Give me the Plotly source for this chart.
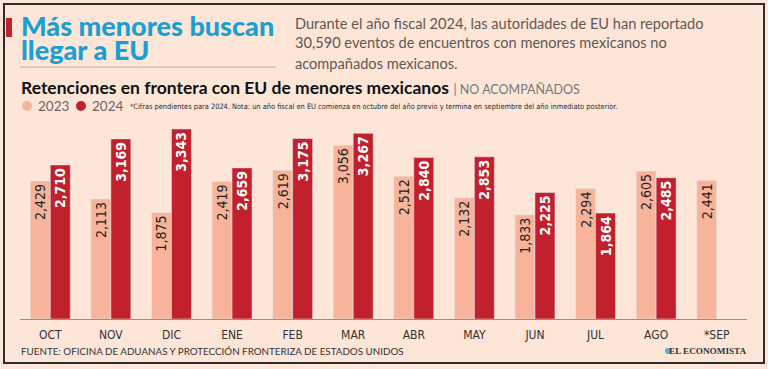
import plotly.graph_objects as go

W, H = 768, 369

months = ["OCT", "NOV", "DIC", "ENE", "FEB", "MAR", "ABR", "MAY", "JUN", "JUL", "AGO", "*SEP"]
v2023 = [2429, 2113, 1875, 2419, 2619, 3056, 2512, 2132, 1833, 2294, 2605, 2441]
v2024 = [2710, 3169, 3343, 2659, 3175, 3267, 2840, 2853, 2225, 1864, 2485, None]
series_names = ["2023", "2024"]

title_l1 = "Más menores buscan"
title_l2 = "llegar a EU"
subtitle = ["Durante el año fiscal 2024, las autoridades de EU han reportado",
            "30,590 eventos de encuentros con menores mexicanos no",
            "acompañados mexicanos."]
chart_title = "Retenciones en frontera con EU de menores mexicanos"
chart_sub = "| NO ACOMPAÑADOS"
note = ("*Cifras pendientes para 2024. Nota: un año fiscal en EU comienza en octubre "
        "del año previo y termina en septiembre del año inmediato posterior.")
source = "FUENTE: OFICINA DE ADUANAS Y PROTECCIÓN FRONTERIZA DE ESTADOS UNIDOS"
brand = "EL ECONOMISTA"

C23 = "#f8b39b"
C24 = "#c1202c"
BG = "#fde6d8"
NARROW = "Liberation Sans Narrow, DejaVu Sans Condensed, Roboto Condensed, sans-serif"
GEO = "Lato, Noto Sans, sans-serif"

def fmt(v):
    return "" if v is None else f"{v:,}"

def px(x):
    return x / W

def py(y):
    return 1 - y / H

# plot area
x0, x1 = 20, 747
ybase, ytop = 319, 120
scale = 190 / 3343.0
ymax = (ybase - ytop) / scale

fig = go.Figure()
fig.add_trace(go.Bar(
    x=months, y=v2023, name=series_names[0], marker_color=C23,
    text=[fmt(v) for v in v2023], textposition="inside", insidetextanchor="end",
    textangle=-90, constraintext="none",
    textfont=dict(family=NARROW, size=14, color="#222"),
    hoverinfo="skip", showlegend=False,
))
fig.add_trace(go.Bar(
    x=months, y=v2024, name=series_names[1], marker_color=C24,
    text=[fmt(v) for v in v2024], textposition="inside", insidetextanchor="end",
    textangle=-90, constraintext="none",
    textfont=dict(family=NARROW, size=14, color="white", weight="bold"),
    hoverinfo="skip", showlegend=False,
))

fig.update_layout(
    width=W, height=H, margin=dict(l=0, r=0, t=0, b=0),
    paper_bgcolor=BG, plot_bgcolor=BG,
    barmode="group", bargap=0.34, bargroupgap=0,
    xaxis=dict(domain=[px(x0), px(x1)], showgrid=False, showline=True,
               linecolor="#9a8f88", linewidth=1, ticks="", ticklabelstandoff=5,
               tickfont=dict(family=NARROW, size=12, color="#333"),
               fixedrange=True),
    yaxis=dict(domain=[py(ybase), py(ytop)], range=[0, ymax], visible=False,
               showgrid=False, fixedrange=True),
    showlegend=False,
)

shapes = []
# frame
shapes.append(dict(type="rect", xref="paper", yref="paper", x0=px(4), x1=px(764),
                   y0=py(363), y1=py(4), line=dict(color="#2b2b2b", width=2),
                   fillcolor="rgba(0,0,0,0)"))
# red marker
shapes.append(dict(type="rect", xref="paper", yref="paper", x0=px(6), x1=px(12),
                   y0=py(37), y1=py(18), line=dict(width=0), fillcolor=C24))
# rule under title
shapes.append(dict(type="line", xref="paper", yref="paper", x0=px(20), x1=px(276),
                   y0=py(67), y1=py(67), line=dict(color="#b9b0aa", width=1)))
# legend circles
for cx, col in [(27, C23), (81, C24)]:
    shapes.append(dict(type="circle", xref="paper", yref="paper",
                       x0=px(cx - 5), x1=px(cx + 5), y0=py(111), y1=py(101),
                       line=dict(width=0), fillcolor=col))
# brand dot
shapes.append(dict(type="circle", xref="paper", yref="paper",
                   x0=px(665), x1=px(671), y0=py(354), y1=py(348),
                   line=dict(width=0), fillcolor="#5aaed6"))
fig.update_layout(shapes=shapes)

ann = []
def A(text, x, y, size, color, family=GEO, xanchor="left", yanchor="middle", weight=None):
    f = dict(family=family, size=size, color=color)
    if weight:
        f["weight"] = weight
    ann.append(dict(text=text, x=px(x), y=py(y), xref="paper", yref="paper",
                    xanchor=xanchor, yanchor=yanchor, showarrow=False, font=f))

A(title_l1, 19, 26, 27, "#1a9fd2", weight=900)
A(title_l2, 19, 50, 27, "#1a9fd2", weight=900)
for i, line in enumerate(subtitle):
    A(line, 293, 23 + i * 20, 14.6, "#5f5854")
A(f"<b>{chart_title}</b> <span style='color:#777;font-size:12.5px;font-weight:normal'>{chart_sub}</span>",
  19, 88, 17.5, "#111")
A(series_names[0], 36, 106, 13.5, "#6a6560")
A(series_names[1], 90, 106, 13.5, "#6a6560")
A(note, 128, 106, 7.4, "#2a2a2a", family=NARROW)
A(source, 19, 351, 9.8, "#333")
A(brand, 749, 351, 9.2, "#333", family="Liberation Serif, DejaVu Serif, serif",
  xanchor="right", weight="bold")
fig.update_layout(annotations=ann)

fig.write_html("out.html", config={"displayModeBar": False},
               post_script="document.body.style.margin='0px';document.body.style.overflow='hidden';")
